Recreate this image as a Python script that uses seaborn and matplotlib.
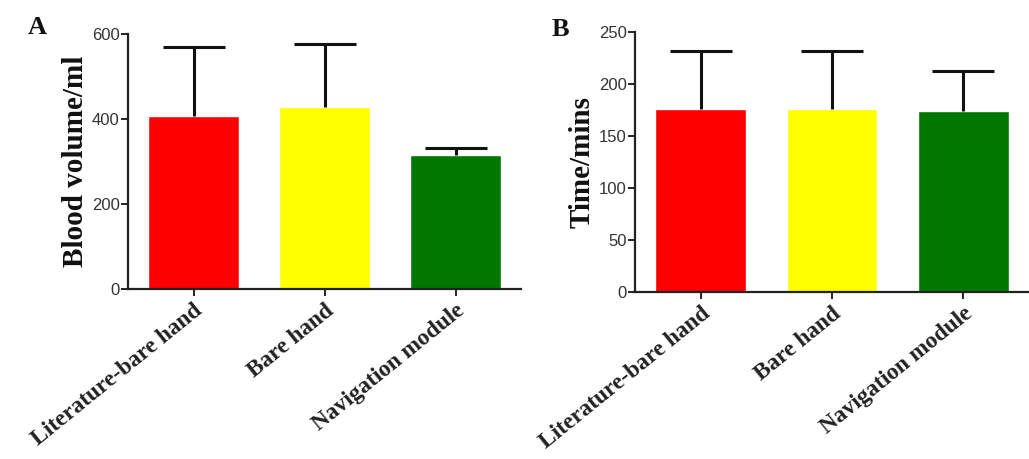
import matplotlib
matplotlib.use("Agg")
import matplotlib.pyplot as plt
import seaborn as sns
import pandas as pd
import numpy as np

groups = ["Literature-bare hand", "Bare hand", "Navigation module"]
colors = ["#FF0000", "#FFFF00", "#007800"]
blood_mean = [407, 429, 315]
blood_err = [163, 147, 16]
time_mean = [176, 176, 174]
time_err = [56, 56, 39]

sns.set_theme(style="ticks")
plt.rcParams["font.family"] = ["Liberation Serif", "DejaVu Serif"]

fig = plt.figure(figsize=(10.29, 4.59), dpi=100)
axA = fig.add_axes([0.1244, 0.370, 0.382, 0.556])
axB = fig.add_axes([0.617, 0.3645, 0.383, 0.5655])

def panel(ax, means, errs, ylim, yticks, ylabel):
    df = pd.DataFrame({"group": groups, "value": means})
    sns.barplot(data=df, x="group", y="value", hue="group", palette=colors,
                order=groups, hue_order=groups, width=0.69, dodge=False,
                legend=False, errorbar=None, ax=ax, saturation=1)
    _, caps, _ = ax.errorbar(np.arange(len(groups)), means,
                             yerr=[np.zeros(len(errs)), errs],
                             fmt="none", ecolor="#111111", elinewidth=2.2,
                             capsize=22, capthick=2.2)
    if len(caps) == 2:
        caps[0].set_visible(False)
    ax.set_ylim(*ylim)
    ax.set_xlim(-0.5, 2.5)
    ax.set_yticks(yticks)
    ax.set_yticklabels([str(t) for t in yticks], family=["Liberation Sans", "DejaVu Sans"],
                       fontsize=12, color="#333333")
    ax.set_xticks(range(len(groups)))
    ax.set_xticklabels(groups, rotation=39, ha="right", rotation_mode="anchor",
                       fontsize=16.8, fontweight="bold", color="#222222")
    ax.set_xlabel("")
    ax.set_ylabel(ylabel, fontsize=21, fontweight="bold", color="#111111", labelpad=2)
    for s in ["top", "right"]:
        ax.spines[s].set_visible(False)
    for s in ["left", "bottom"]:
        ax.spines[s].set_linewidth(1.6)
        ax.spines[s].set_color("#222222")
    ax.tick_params(axis="both", length=5, width=1.4, color="#222222", pad=1)
    ax.tick_params(axis="x", pad=3)

panel(axA, blood_mean, blood_err, (0, 600), [0, 200, 400, 600], "Blood volume/ml")
panel(axB, time_mean, time_err, (0, 250), [0, 50, 100, 150, 200, 250], "Time/mins")

fig.text(0.027, 0.925, "A", fontsize=19, fontweight="bold", color="#111111")
fig.text(0.536, 0.922, "B", fontsize=19, fontweight="bold", color="#111111")

fig.savefig("out.png", dpi=100)
